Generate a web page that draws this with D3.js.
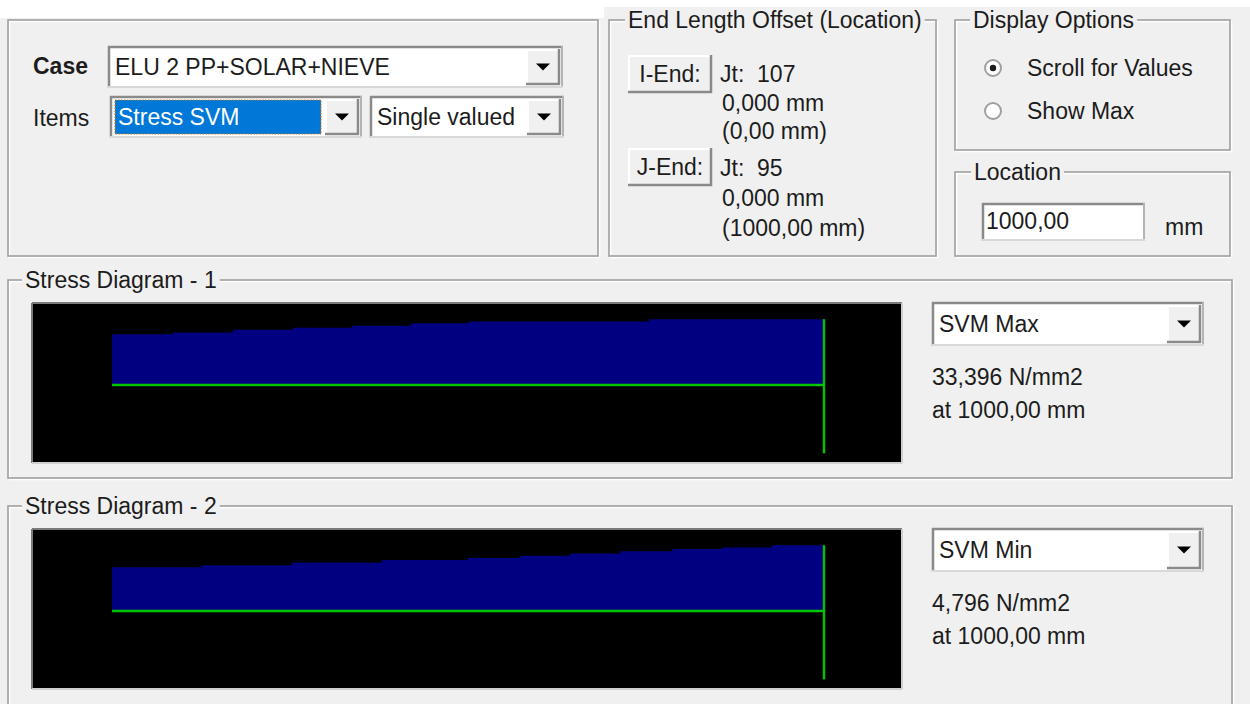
<!DOCTYPE html>
<html>
<head>
<meta charset="utf-8">
<script src="https://cdn.jsdelivr.net/npm/d3@7"></script>
<style>
  html, body { margin: 0; padding: 0; background: #f0f0f0; }
  svg { display: block; }
  text { font-family: "Liberation Sans", Arial, sans-serif; fill: #1c1c1c; white-space: pre; }
</style>
</head>
<body>
<script>
// ---------------- Data ----------------
const caseName = "ELU 2 PP+SOLAR+NIEVE";
const itemName = "Stress SVM";
const valueMode = "Single valued";
const iEndLines = ["Jt:  107", "0,000 mm", "(0,00 mm)"];
const jEndLines = ["Jt:  95", "0,000 mm", "(1000,00 mm)"];
const displayOptions = ["Scroll for Values", "Show Max"];
const locationValue = "1000,00";
const memberLength = 1000; // mm

// Stress Diagram 1 (SVM Max) – station (mm) and value (N/mm2), stepped
const diag1Stations = [0, 85, 170, 254, 337, 420, 501, 754, 1000];
const diag1Values   = [25.8, 26.6, 28.0, 29.0, 30.1, 31.4, 32.2, 33.396, 33.396];
const diag1Label = "SVM Max";
const diag1Result = ["33,396 N/mm2", "at 1000,00 mm"];

// Stress Diagram 2 (SVM Min)
const diag2Stations = [0, 126, 252, 379, 500, 573, 643, 714, 787, 857, 927, 1000];
const diag2Values   = [3.18, 3.34, 3.51, 3.71, 3.87, 4.02, 4.19, 4.36, 4.51, 4.63, 4.796, 4.796];
const diag2Label = "SVM Min";
const diag2Result = ["4,796 N/mm2", "at 1000,00 mm"];

// ---------------- Drawing ----------------
const W = 1250, H = 704, FS = 23;
const svg = d3.select("body").append("svg").attr("width", W).attr("height", H);
svg.append("rect").attr("width", W).attr("height", H).attr("fill", "#f0f0f0");
svg.append("rect").attr("width", W).attr("height", 7).attr("fill", "#ffffff");

function txt(x, y, s, o = {}) {
  return svg.append("text").attr("x", x).attr("y", y)
    .attr("dominant-baseline", "central")
    .attr("text-anchor", o.anchor || "start")
    .attr("xml:space", "preserve")
    .style("font-size", (o.size || FS) + "px")
    .style("font-weight", o.bold ? "bold" : "normal")
    .style("fill", o.fill || "#1c1c1c")
    .text(s);
}
function line(x1, y1, x2, y2, c, w) {
  svg.append("line").attr("x1", x1).attr("y1", y1).attr("x2", x2).attr("y2", y2)
    .attr("stroke", c).attr("stroke-width", w);
}
function groupBox(x, y, w, h, title, tx) {
  svg.append("rect").attr("x", x + 1.5).attr("y", y + 1.5).attr("width", w).attr("height", h)
    .attr("fill", "none").attr("stroke", "#ffffff").attr("stroke-width", 1.5);
  svg.append("rect").attr("x", x).attr("y", y).attr("width", w).attr("height", h)
    .attr("fill", "none").attr("stroke", "#a4a4a4").attr("stroke-width", 1.7);
  if (title) {
    const t = txt(tx, y, title);
    const bb = t.node().getBBox();
    svg.insert("rect", () => t.node()).attr("x", bb.x - 3).attr("y", y - 4)
      .attr("width", bb.width + 6).attr("height", 8).attr("fill", "#f0f0f0");
  }
}
function sunken(x, y, w, h, fill) {
  svg.append("rect").attr("x", x).attr("y", y).attr("width", w).attr("height", h).attr("fill", fill);
  line(x, y + 1, x + w, y + 1, "#8a8a8a", 2.5);
  line(x + 1, y, x + 1, y + h, "#8a8a8a", 2.5);
  line(x + w - 1, y, x + w - 1, y + h, "#b4b4b4", 2);
  line(x, y + h - 1, x + w, y + h - 1, "#d8d8d8", 2);
}
function raised(x, y, w, h) {
  svg.append("rect").attr("x", x).attr("y", y).attr("width", w).attr("height", h).attr("fill", "#f0f0f0");
  line(x, y + 1, x + w, y + 1, "#ffffff", 2);
  line(x + 1, y, x + 1, y + h, "#ffffff", 2);
  line(x + w - 1, y, x + w - 1, y + h, "#8a8a8a", 2.5);
  line(x, y + h - 1, x + w, y + h - 1, "#8a8a8a", 2.5);
}
function combo(x, y, w, h, label, sel) {
  sunken(x, y, w, h, "#ffffff");
  const bw = 34;
  raised(x + w - bw - 3, y + 3, bw, h - 6);
  const cx = x + w - 3 - bw / 2, cy = y + h / 2;
  svg.append("path").attr("d", `M${cx - 7},${cy - 3.5}L${cx + 7},${cy - 3.5}L${cx},${cy + 3.5}Z`).attr("fill", "#000");
  if (sel) {
    svg.append("rect").attr("x", x + 5).attr("y", y + 4).attr("width", w - bw - 12).attr("height", h - 8)
      .attr("fill", "#0078d7").attr("stroke", "#c87a20").attr("stroke-width", 1.2)
      .attr("stroke-dasharray", "1.5,1.5");
    txt(x + 8, y + h / 2, label, { fill: "#ffffff" });
  } else {
    txt(x + 7, y + h / 2, label);
  }
}
function radio(cx, cy, checked) {
  svg.append("circle").attr("cx", cx).attr("cy", cy).attr("r", 8).attr("fill", "#ffffff")
    .attr("stroke", "#a0a0a0").attr("stroke-width", 2);
  if (checked) svg.append("circle").attr("cx", cx).attr("cy", cy).attr("r", 3.2).attr("fill", "#1a1a1a");
}

// --- Top-left frame ---
svg.append("rect").attr("x", 0).attr("y", 7).attr("width", 604).attr("height", 11).attr("fill", "#ffffff");
groupBox(8, 20, 590, 236, null);
txt(33, 66, "Case", { bold: true });
combo(108, 46, 455, 42, caseName, false);
txt(33, 118, "Items");
combo(110, 96, 252, 42, itemName, true);
combo(370, 96, 194, 42, valueMode, false);

// --- End Length Offset ---
groupBox(609, 20, 327, 236, "End Length Offset (Location)", 628);
raised(628, 55, 84, 38); txt(670, 74, "I-End:", { anchor: "middle" });
raised(628, 148, 84, 38); txt(670, 167, "J-End:", { anchor: "middle" });
[74, 103, 131].forEach((yy, i) => txt(i === 0 ? 720 : 722, yy, iEndLines[i]));
[168, 198, 228].forEach((yy, i) => txt(i === 0 ? 720 : 722, yy, jEndLines[i]));

// --- Display Options ---
groupBox(955, 20, 275, 130, "Display Options", 973);
radio(993, 68, true);  txt(1027, 68, displayOptions[0]);
radio(993, 111, false); txt(1027, 111, displayOptions[1]);

// --- Location ---
groupBox(955, 172, 275, 84, "Location", 974);
sunken(982, 203, 163, 38, "#ffffff");
txt(986, 221, locationValue);
txt(1165, 227, "mm");

// --- Stress diagrams ---
function diagram(gy, title, stations, values, label, result) {
  groupBox(8, gy, 1224, gy === 280 ? 198 : 200, title, 25);
  const px = 33, py = gy + 24, pw = 868, ph = 158;
  svg.append("rect").attr("x", px).attr("y", py).attr("width", pw).attr("height", ph).attr("fill", "#000");
  line(px - 1, py - 1, px + pw + 1, py - 1, "#7a7a7a", 2);
  line(px - 1, py - 1, px - 1, py + ph + 1, "#7a7a7a", 2);
  line(px - 1, py + ph + 1, px + pw + 1, py + ph + 1, "#cfcfcf", 2);
  line(px + pw + 1, py - 1, px + pw + 1, py + ph + 1, "#cfcfcf", 2);

  const base = py + 81;
  const M = d3.max(values);
  const x = d3.scaleLinear().domain([0, memberLength]).range([112, 824]);
  const y = d3.scaleLinear().domain([-M, M]).range([base + 65.8, base - 65.8]);
  const pts = stations.map((s, i) => ({ s, v: values[i] }));
  const area = d3.area().curve(d3.curveStepAfter)
    .x(d => x(d.s)).y0(y(0)).y1(d => y(d.v));
  svg.append("path").datum(pts).attr("d", area).attr("fill", "#000080");
  svg.append("line").attr("x1", x(0)).attr("x2", x(memberLength)).attr("y1", y(0)).attr("y2", y(0))
    .attr("stroke", "#00c400").attr("stroke-width", 2.4);
  svg.append("line").attr("x1", x(memberLength)).attr("x2", x(memberLength))
    .attr("y1", y(M)).attr("y2", y(-M * 1.04))
    .attr("stroke", "#00c400").attr("stroke-width", 2.4);

  combo(932, py - 2, 272, 44, label, false);
  txt(932, py + 73, result[0]);
  txt(932, py + 106, result[1]);
}
diagram(280, "Stress Diagram - 1", diag1Stations, diag1Values, diag1Label, diag1Result);
diagram(506, "Stress Diagram - 2", diag2Stations, diag2Values, diag2Label, diag2Result);
</script>
</body>
</html>
